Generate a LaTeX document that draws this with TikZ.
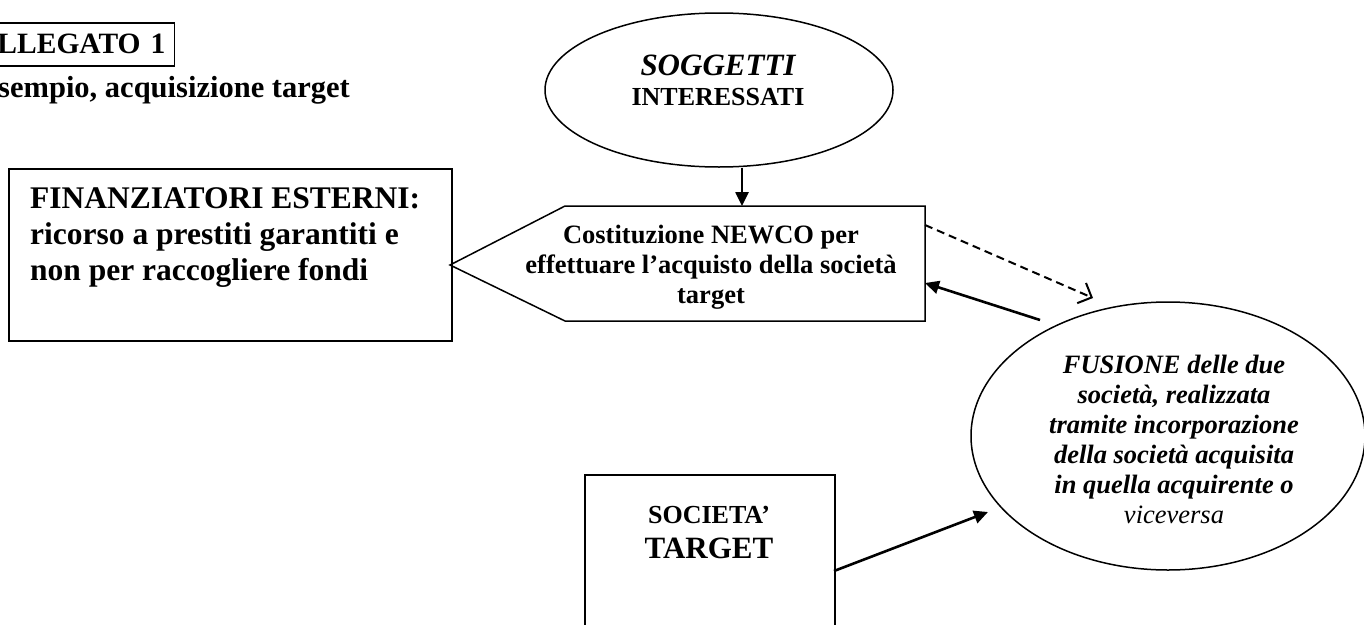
\documentclass[tikz,border=0pt]{standalone}
\usepackage{fontspec}
\setmainfont{Liberation Serif}
\usetikzlibrary{shapes.geometric,arrows.meta}
\tikzset{
  outline/.style={draw, line width=1.5pt},
  oval/.style={ellipse, draw, line width=1.5pt, inner sep=0pt},
  txt/.style={inner sep=0pt, align=center},
  conn/.style={line width=2.6pt, -{Triangle[length=14pt,width=13pt]}},
  dconn/.style={line width=2pt, dash pattern=on 8pt off 5pt, -{Straight Barb[length=11pt,width=22pt,line width=2pt]}}
}
\begin{document}
\begin{tikzpicture}[x=1pt,y=-1pt]
\useasboundingbox (0,0) rectangle (1364,624);

% heading
\node (alleg) [outline, anchor=north east, minimum height=43pt, text width=190pt, align=right,
  inner xsep=9pt, inner ysep=0pt, font=\fontsize{29.5}{33}\selectfont\bfseries] at (175,22) {LLEGATO 1};
\node (sub) [inner sep=0pt, anchor=base east, font=\fontsize{30.5}{33}\selectfont\bfseries] at (350,97) {sempio, acquisizione target};

% external lenders
\node (fin) [outline, anchor=north west, minimum width=443pt, minimum height=172pt, inner sep=0pt] at (8,168) {};
\node (finT) [inner sep=0pt, anchor=north west, align=left, font=\fontsize{31.5}{36}\selectfont\bfseries] at (30,187)
  {FINANZIATORI ESTERNI:\\ricorso a prestiti garantiti e\\non per raccogliere fondi};

% subjects
\node (sogg) [oval, minimum width=348pt, minimum height=154pt] at (719,90) {};
\node (soggT) [txt, font=\fontsize{26}{30}\selectfont\bfseries] at (718,80)
  {{\fontsize{31}{30}\selectfont\itshape SOGGETTI}\\INTERESSATI};

% NEWCO pentagon
\coordinate (ptip) at (450,265);
\coordinate (pnw) at (565,206);
\coordinate (pne) at (925,206);
\coordinate (pse) at (925,321);
\coordinate (psw) at (565,321);
\draw[outline] (ptip) -- (pnw) -- (pne) -- (pse) -- (psw) -- cycle;
\node (newco) [txt, font=\fontsize{26.5}{30}\selectfont\bfseries] at (711,267)
  {Costituzione NEWCO per\\effettuare l’acquisto della società\\target};

% merger
\node (fus) [oval, minimum width=394pt, minimum height=268pt] at (1168,436) {};
\node (fusT) [txt, font=\fontsize{26.5}{30}\selectfont\bfseries\itshape] at (1174,439)
  {FUSIONE delle due\\società, realizzata\\tramite incorporazione\\della società acquisita\\in quella acquirente o\\{\mdseries viceversa}};

% target company
\node (tgt) [outline, anchor=north west, minimum width=250pt, minimum height=180pt, inner sep=0pt] at (584,474) {};
\node (tgtT) [txt, font=\fontsize{26}{35}\selectfont\bfseries] at (709,532)
  {SOCIETA’\\{\fontsize{31}{35}\selectfont TARGET}};

% connector end points
\coordinate (nTop) at (742,206);
\coordinate (nDashStart) at (925,225);
\coordinate (fDashEnd) at (1093,298);
\coordinate (fSolidStart) at (1040,320);
\coordinate (nSolidEnd) at (925,283);
\coordinate (tStart) at (834,571);
\coordinate (fTgtEnd) at (988,512);

\draw[conn] (nTop |- sogg.south) -- (nTop);
\draw[dconn] (nDashStart) -- (fDashEnd);
\draw[conn] (fSolidStart) -- (nSolidEnd);
\draw[conn] (tStart) -- (fTgtEnd);
\end{tikzpicture}
\end{document}
